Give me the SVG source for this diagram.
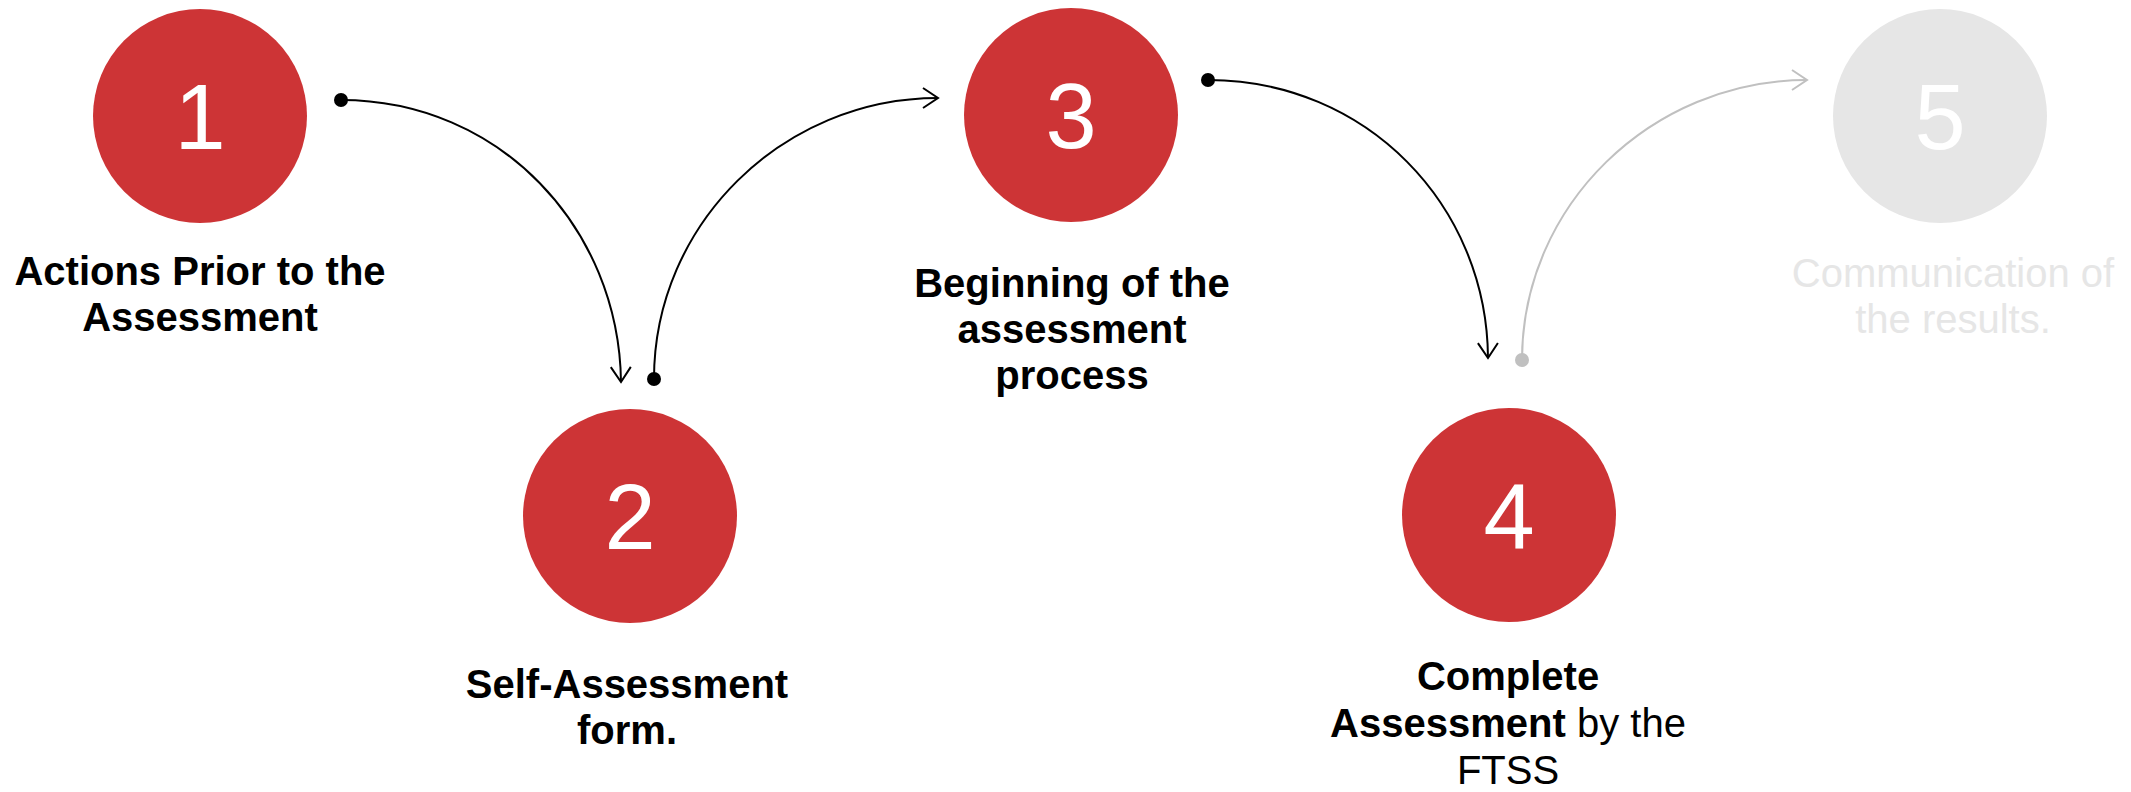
<svg xmlns="http://www.w3.org/2000/svg" width="2131" height="792" viewBox="0 0 2131 792">
<style>
.bg{fill:#ffffff}
.step{fill:#cd3436}
.step.off{fill:#e6e6e6}
.num{font-family:"Liberation Sans",Arial,sans-serif;font-size:92px;fill:#ffffff;text-anchor:middle}
.lbl{font-family:"Liberation Sans",Arial,sans-serif;font-size:40px;font-weight:bold;fill:#000000;text-anchor:middle}
.lbl .n,.lbl.n{font-weight:normal}
.lbl.off{font-weight:normal;fill:#e6e6e6}
.con{fill:none;stroke:#000000;stroke-width:2;marker-start:url(#dot);marker-end:url(#arr)}
.con.off{stroke:#c0c0c0;marker-start:url(#dotg);marker-end:url(#arrg)}
</style>
<defs>
<marker id="arr" markerUnits="userSpaceOnUse" markerWidth="24" markerHeight="24" viewBox="-18 -12 20 24" refX="0" refY="0" orient="auto"><path d="M-15,-10 L0,0 L-15,10" fill="none" stroke="#000000" stroke-width="2"/></marker>
<marker id="arrg" markerUnits="userSpaceOnUse" markerWidth="24" markerHeight="24" viewBox="-18 -12 20 24" refX="0" refY="0" orient="auto"><path d="M-15,-10 L0,0 L-15,10" fill="none" stroke="#c0c0c0" stroke-width="2"/></marker>
<marker id="dot" markerUnits="userSpaceOnUse" markerWidth="16" markerHeight="16" viewBox="-8 -8 16 16" refX="0" refY="0"><circle r="7" fill="#000000"/></marker>
<marker id="dotg" markerUnits="userSpaceOnUse" markerWidth="16" markerHeight="16" viewBox="-8 -8 16 16" refX="0" refY="0"><circle r="7" fill="#c0c0c0"/></marker>
</defs>
<rect class="bg" x="0" y="0" width="2131" height="792"/>
<g id="connectors">
<path class="con" d="M341,100 C500,100 619,228 621,382"/>
<path class="con" d="M654,379 C654,224 783,98 938,98"/>
<path class="con" d="M1208,80 C1366,80 1487,205 1488,358"/>
<path class="con off" d="M1522,360 C1522,205 1652,80 1807,80"/>
</g>
<g id="node1">
<circle class="step" cx="200" cy="116" r="107"/>
<text class="num" x="200" y="149">1</text>
<text class="lbl" x="200" y="285">Actions Prior to the</text>
<text class="lbl" x="200" y="331">Assessment</text>
</g>
<g id="node2">
<circle class="step" cx="630" cy="516" r="107"/>
<text class="num" x="630" y="549">2</text>
<text class="lbl" x="627" y="698">Self-Assessment</text>
<text class="lbl" x="627" y="744">form.</text>
</g>
<g id="node3">
<circle class="step" cx="1071" cy="115" r="107"/>
<text class="num" x="1071" y="148">3</text>
<text class="lbl" x="1072" y="297">Beginning of the</text>
<text class="lbl" x="1072" y="343">assessment</text>
<text class="lbl" x="1072" y="389">process</text>
</g>
<g id="node4">
<circle class="step" cx="1509" cy="515" r="107"/>
<text class="num" x="1509" y="548">4</text>
<text class="lbl" x="1508" y="690">Complete</text>
<text class="lbl" x="1508" y="737">Assessment<tspan class="n"> by the</tspan></text>
<text class="lbl n" x="1508" y="784">FTSS</text>
</g>
<g id="node5">
<circle class="step off" cx="1940" cy="116" r="107"/>
<text class="num" x="1940" y="149">5</text>
<text class="lbl off" x="1953" y="287">Communication of</text>
<text class="lbl off" x="1953" y="333">the results.</text>
</g>
</svg>
